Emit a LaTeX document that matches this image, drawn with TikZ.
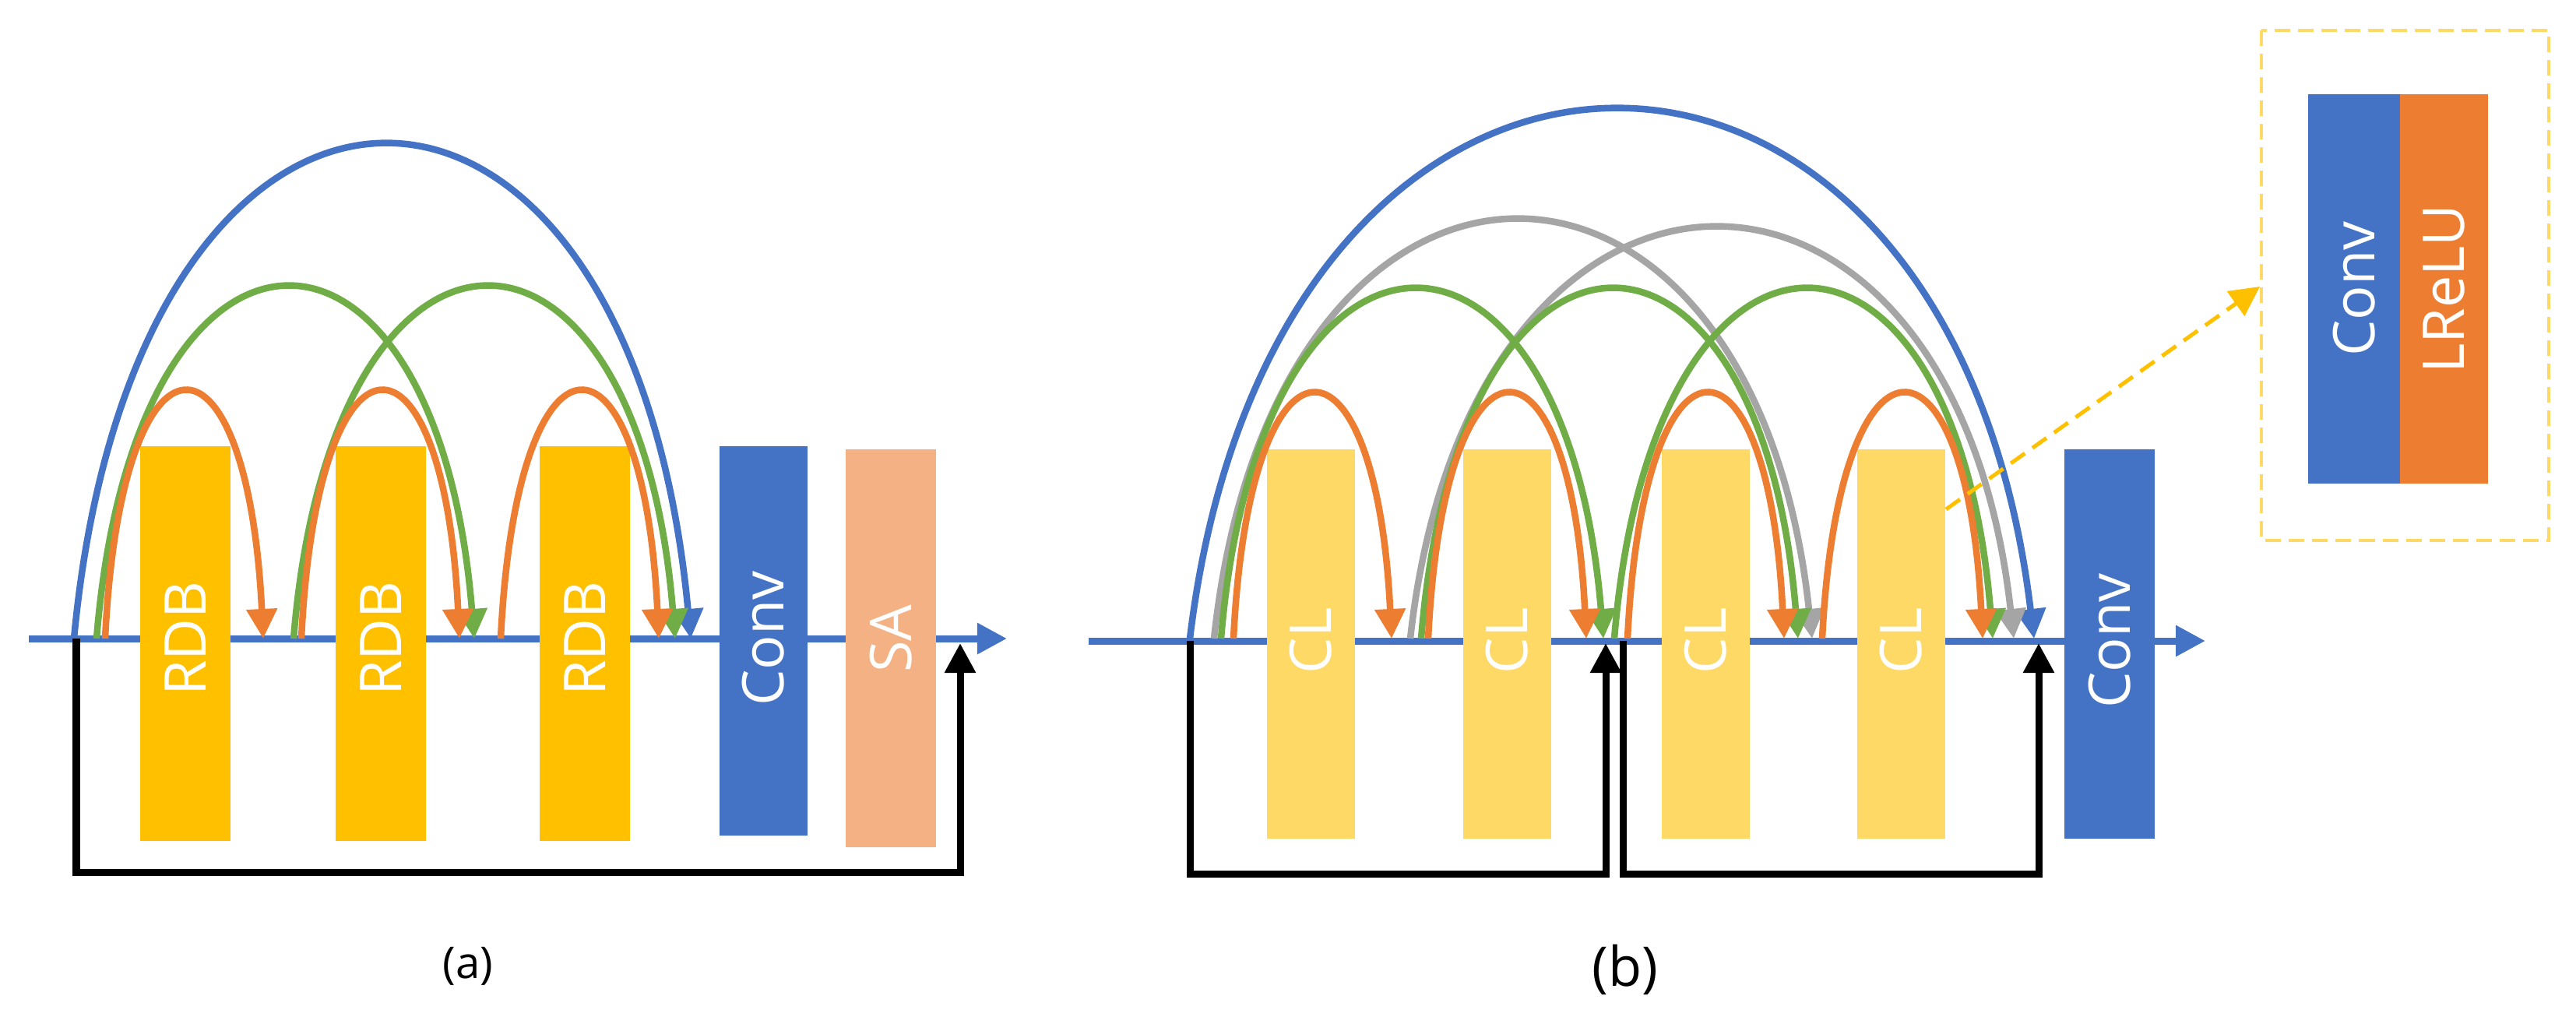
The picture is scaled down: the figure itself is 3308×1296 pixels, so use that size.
\documentclass[tikz,border=0pt]{standalone}
\usepackage{fontspec}
\setmainfont{Open Sans}
\usetikzlibrary{arrows.meta}
\definecolor{cblue}{HTML}{4472C4}
\definecolor{corange}{HTML}{ED7D31}
\definecolor{cgreen}{HTML}{70AD47}
\definecolor{cgray}{HTML}{A5A5A5}
\definecolor{cgold}{HTML}{FFC000}
\definecolor{clight}{HTML}{FFD966}
\definecolor{csalmon}{HTML}{F4B183}
\newcommand\myarch[4]{\draw[arc,#1] (#2,820) .. controls ({#2+0.1*(#3-#2)},{820-1.333*(820-#4)}) and ({#3-0.1*(#3-#2)},{820-1.333*(820-#4)}) .. (#3,820);}
\begin{document}
\begin{tikzpicture}[x=0.01cm,y=-0.01cm,
  tip/.style={-{Triangle[length=0.38cm,width=0.38cm]}},
  arc/.style={line width=0.085cm,tip},
  lab/.style={text=white,font=\fontsize{21}{21}\selectfont,rotate=90},
  loop/.style={line width=0.09cm,black,tip}]
\useasboundingbox (0,0) rectangle (3308,1296);
% main lines
\coordinate (a0) at (37,820); \coordinate (a1) at (1293,820);
\coordinate (b0) at (1398,823); \coordinate (b1) at (2832,823);
\draw[line width=0.09cm,cblue,tip] (a0) -- (a1);
\draw[line width=0.09cm,cblue,tip] (b0) -- (b1);
% panel a boxes
\foreach \x/\n in {180/r1,431/r2,693/r3}{
  \fill[cgold] (\x,573) rectangle ++(116,507);
  \node[lab] (\n) at ({\x+58},820) {RDB};}
\fill[cblue] (924,573) rectangle (1037,1073);
\node[lab] (conva) at (980,820) {Conv};
\fill[csalmon] (1086,577) rectangle (1202,1088);
\node[lab] (sa) at (1144,820) {SA};
% panel b boxes
\foreach \x/\n in {1627/c1,1879/c2,2134/c3,2385/c4}{
  \fill[clight] (\x,577) rectangle ++(113,500);
  \node[lab] (\n) at ({\x+56},823) {CL};}
\fill[cblue] (2651,577) rectangle (2767,1077);
\node[lab] (convb) at (2709,823) {Conv};
% arcs panel a
\myarch{cblue}{95}{887}{188}
\myarch{cgreen}{124}{609}{371}
\myarch{cgreen}{377}{867}{371}
\myarch{corange}{135}{338}{505}
\myarch{corange}{387}{590}{505}
\myarch{corange}{643}{846}{505}
% arcs panel b
\myarch{cblue}{1528}{2612}{143}
\myarch{cgray}{1559}{2327}{285}
\myarch{cgray}{1811}{2586}{295}
\myarch{cgreen}{1568}{2059}{374}
\myarch{cgreen}{1825}{2309}{374}
\myarch{cgreen}{2073}{2559}{374}
\myarch{corange}{1584}{1787}{508}
\myarch{corange}{1834}{2037}{508}
\myarch{corange}{2090}{2291}{508}
\myarch{corange}{2340}{2546}{508}
% skip loops
\coordinate (la0) at (98,820); \coordinate (la1) at (1233,826);
\draw[loop] (la0) -- (98,1120) -| (la1);
\coordinate (lb0) at (1528,823); \coordinate (lb1) at (2062,826);
\draw[loop] (lb0) -- (1528,1122) -| (lb1);
\coordinate (lc0) at (2084,823); \coordinate (lc1) at (2618,826);
\draw[loop] (lc0) -- (2084,1122) -| (lc1);
% inset
\draw[clight,line width=0.045cm,dash pattern=on 0.2cm off 0.1cm] (2904,39) rectangle (3273,694);
\fill[cblue] (2964,121) rectangle (3082,621);
\fill[corange] (3082,121) rectangle (3195,621);
\node[lab] (convi) at (3023,371) {Conv};
\node[lab] (lrelu) at (3138,371) {LReLU};
\coordinate (z0) at (2499,654); \coordinate (z1) at (2902,368);
\draw[cgold,line width=0.05cm,dash pattern=on 0.22cm off 0.12cm,-{Triangle[length=0.38cm,width=0.38cm]}] (z0) -- (z1);
% captions
\node (capa) at (601,1241) {\fontsize{16}{16}\selectfont (a)};
\node (capb) at (2087,1245) {\fontsize{20}{20}\selectfont (b)};
\end{tikzpicture}
\end{document}
